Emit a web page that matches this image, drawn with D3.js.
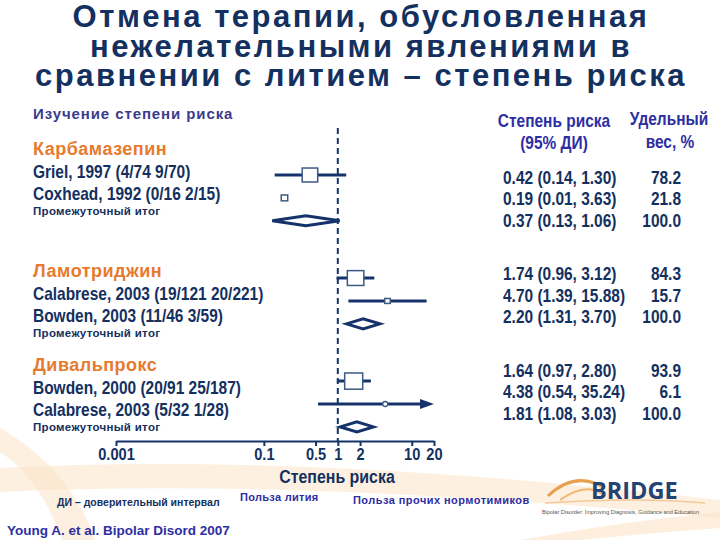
<!DOCTYPE html>
<html><head><meta charset="utf-8">
<script src="https://cdn.jsdelivr.net/npm/d3@7"></script>
<style>body{margin:0;background:#fff} svg{display:block}</style>
</head><body>
<svg id="c" width="720" height="540"></svg>
<script>
// ---------- DATA ----------
const titleLines = ["Отмена терапии, обусловленная", "нежелательными явлениями в", "сравнении с литием – степень риска"];
const groups = ["Карбамазепин", "Ламотриджин", "Дивальпрокс"];
const rowLabels = [
  "Griel, 1997 (4/74 9/70)", "Coxhead, 1992 (0/16 2/15)", "Промежуточный итог",
  "Calabrese, 2003 (19/121 20/221)", "Bowden, 2003 (11/46 3/59)", "Промежуточный итог",
  "Bowden, 2000 (20/91 25/187)", "Calabrese, 2003 (5/32 1/28)", "Промежуточный итог"
];
const rowGroup = [0, 0, 0, 1, 1, 1, 2, 2, 2];
const rowKind = ["study", "study", "subtotal", "study", "study", "subtotal", "study", "study", "subtotal"];
const hr = [0.42, 0.19, 0.37, 1.74, 4.70, 2.20, 1.64, 4.38, 1.81];
const lo = [0.14, 0.01, 0.13, 0.96, 1.39, 1.31, 0.97, 0.54, 1.08];
const hi = [1.30, 3.63, 1.06, 3.12, 15.88, 3.70, 2.80, 35.24, 3.03];
const weight = [78.2, 21.8, 100.0, 84.3, 15.7, 100.0, 93.9, 6.1, 100.0];
const ciShown = [true, false, true, true, true, true, true, true, true];
const tickValues = [0.001, 0.1, 0.5, 1, 2, 10, 20];
const tickLabels = ["0.001", "0.1", "0.5", "1", "2", "10", "20"];
const fmt2 = d3.format(".2f"), fmt1 = d3.format(".1f");

// ---------- STYLE ----------
const navy = "#14305f", lineNavy = "#15336a", orange = "#e67a2e", hdrBlue = "#2e2ea3", purple = "#3b3b8c";
const arial = "'Liberation Sans',Arial,sans-serif";
const NX = 0.86; // horizontal condensation for the narrow face

const svg = d3.select("#c");

// narrow text helper (Arial Narrow look)
function nText(g, x, y, str, size, anchor, fill) {
  return g.append("text").attr("transform", `translate(${x},${y}) scale(${NX},1)`)
    .attr("text-anchor", anchor || "start").attr("font-family", arial).attr("font-weight", "bold")
    .attr("font-size", size).attr("fill", fill || navy).text(str);
}

// background swooshes
const bg = svg.append("g");
bg.append("path").attr("d", "M0,468 Q300,452 720,500 L720,518 Q300,478 0,492 Z").attr("fill", "#fbe3c8").attr("opacity", 0.55);
bg.append("path").attr("d", "M0,428 Q70,468 95,540 L62,540 Q40,478 0,452 Z").attr("fill", "#fbe3c8").attr("opacity", 0.55);
bg.append("path").attr("d", "M520,540 Q620,522 720,512 L720,528 Q640,534 580,540 Z").attr("fill", "#fbe3c8").attr("opacity", 0.6);

// title
svg.append("g").selectAll("text").data(titleLines).join("text")
  .attr("x", 361).attr("y", (d, i) => 27 + i * 29.5)
  .attr("text-anchor", "middle").attr("font-family", arial).attr("font-weight", "bold")
  .attr("font-size", 31).attr("letter-spacing", 2.5).attr("fill", navy).text(d => d);

// scales
const x = d3.scaleLog().domain([0.001, 20]).range([116, 434]);
const yMark = i => 175 + 22.9 * (i + 1.5 * rowGroup[i]);
const yNum = i => 177 + 21.7 * (i + 1.45 * rowGroup[i]);
const groupY = [148, 270, 364];
const rowOff = [23, 45, 63];
const size = d3.scaleLinear().domain([0, 100]).range([3, 19]);

// left labels
svg.append("text").attr("x", 33).attr("y", 119).attr("font-family", arial).attr("font-weight", "bold")
  .attr("font-size", 15).attr("letter-spacing", 0.9).attr("fill", purple).text("Изучение степени риска");
svg.append("g").selectAll("text").data(groups).join("text")
  .attr("x", 33).attr("y", (d, i) => groupY[i] + 6.5).attr("font-family", arial).attr("font-weight", "bold")
  .attr("font-size", 18).attr("letter-spacing", 0.5).attr("fill", orange).text(d => d);
const lab = svg.append("g");
rowLabels.forEach((d, i) => {
  const yy = groupY[rowGroup[i]] + rowOff[i % 3];
  if (rowKind[i] === "subtotal") {
    lab.append("text").attr("x", 33).attr("y", yy + 4).attr("font-family", arial).attr("font-weight", "bold")
      .attr("font-size", 11.5).attr("letter-spacing", 0.3).attr("fill", navy).text(d);
  } else {
    nText(lab, 33, yy + 6.5, d, 18);
  }
});

// right headers
const hdr = svg.append("g");
nText(hdr, 554, 127, "Степень риска", 18, "middle", hdrBlue);
nText(hdr, 554, 149, "(95% ДИ)", 18, "middle", hdrBlue);
nText(hdr, 669, 125, "Удельный", 18, "middle", hdrBlue);
nText(hdr, 670, 148, "вес, %", 18, "middle", hdrBlue);

// right numbers
const nums = svg.append("g");
hr.forEach((d, i) => {
  nText(nums, 503, yNum(i) + 6.5, `${fmt2(d)} (${fmt2(lo[i])}, ${fmt2(hi[i])})`, 18);
  nText(nums, 681, yNum(i) + 6.5, fmt1(weight[i]), 18, "end");
});

// reference line
svg.append("line").attr("x1", x(1)).attr("x2", x(1)).attr("y1", 128).attr("y2", 441)
  .attr("stroke", lineNavy).attr("stroke-width", 2).attr("stroke-dasharray", "6,4");

// axis
const axisG = svg.append("g").attr("transform", "translate(0,441)")
  .call(d3.axisBottom(x).tickValues(tickValues).tickFormat((d, i) => tickLabels[i]).tickSize(5).tickSizeOuter(0));
axisG.select(".domain").attr("stroke", lineNavy).attr("stroke-width", 2);
axisG.selectAll(".tick line").attr("stroke", lineNavy).attr("stroke-width", 2);
axisG.selectAll(".tick text").attr("font-family", arial).attr("font-weight", "bold").attr("font-size", 17)
  .attr("fill", navy).attr("dy", "0.72em").attr("y", 7).attr("transform", `scale(${NX},1)`);
nText(svg, 337, 483, "Степень риска", 18.5, "middle");

// marks
const xmax = x.domain()[1];
const marks = svg.append("g");
hr.forEach((v, i) => {
  const y = yMark(i);
  if (rowKind[i] === "subtotal") {
    const h = 5;
    marks.append("path")
      .attr("d", `M${x(lo[i])},${y} L${x(v)},${y - h} L${x(hi[i])},${y} L${x(v)},${y + h} Z`)
      .attr("fill", "#fff").attr("stroke", lineNavy).attr("stroke-width", 3).attr("stroke-linejoin", "miter");
    return;
  }
  const clipped = hi[i] > xmax;
  const xr = clipped ? x(xmax) : x(hi[i]);
  if (ciShown[i]) {
    marks.append("line").attr("x1", x(lo[i])).attr("x2", clipped ? xr - 8 : xr).attr("y1", y).attr("y2", y)
      .attr("stroke", lineNavy).attr("stroke-width", 3);
    if (clipped) {
      marks.append("path").attr("d", `M${xr - 14},${y - 5} L${xr},${y} L${xr - 14},${y + 5} Z`).attr("fill", lineNavy);
    }
  }
  const s = size(weight[i]);
  if (s < 4.5) {
    marks.append("circle").attr("cx", x(v)).attr("cy", y).attr("r", s / 2 + 0.5)
      .attr("fill", "#fff").attr("stroke", "#3d5a85").attr("stroke-width", 1.3);
  } else {
    marks.append("rect").attr("x", x(v) - s / 2).attr("y", y - s * 0.45).attr("width", s).attr("height", s * 0.9)
      .attr("fill", "#fff").attr("stroke", "#3d5a85").attr("stroke-width", 1.5);
  }
});

// footer
const foot = svg.append("g").attr("font-family", arial).attr("font-weight", "bold");
foot.append("text").attr("x", 57).attr("y", 506).attr("font-size", 10.5).attr("fill", navy).text("ДИ – доверительный интервал");
foot.append("text").attr("x", 240).attr("y", 501).attr("font-size", 11).attr("letter-spacing", 0.3).attr("fill", hdrBlue).text("Польза лития");
foot.append("text").attr("x", 353).attr("y", 504).attr("font-size", 11).attr("letter-spacing", 0.45).attr("fill", hdrBlue).text("Польза прочих нормотимиков");
foot.append("text").attr("x", 7).attr("y", 535).attr("font-size", 13.5).attr("fill", hdrBlue).text("Young A. et al. Bipolar Disord 2007");

// BRIDGE logo
const logo = svg.append("g");
logo.append("path").attr("d", "M548,496 Q575,470 605,488").attr("fill", "none").attr("stroke", "#e9a04e").attr("stroke-width", 3);
logo.append("path").attr("d", "M560,500 Q585,482 602,494").attr("fill", "none").attr("stroke", "#f0b873").attr("stroke-width", 2);
logo.append("path").attr("d", "M545,503 Q640,497 705,503").attr("fill", "none").attr("stroke", "#f3c99a").attr("stroke-width", 1.5);
logo.append("text").attr("x", 591).attr("y", 499).attr("font-family", "'Open Sans',sans-serif").attr("font-weight", "bold")
  .attr("font-size", 23.5).attr("fill", "#244373").text("BRIDGE");
logo.append("text").attr("x", 542).attr("y", 514).attr("font-family", arial).attr("font-size", 5.6).attr("fill", "#555")
  .attr("textLength", 157).attr("lengthAdjust", "spacingAndGlyphs")
  .text("Bipolar Disorder: Improving Diagnosis, Guidance and Education");
</script>
</body></html>
